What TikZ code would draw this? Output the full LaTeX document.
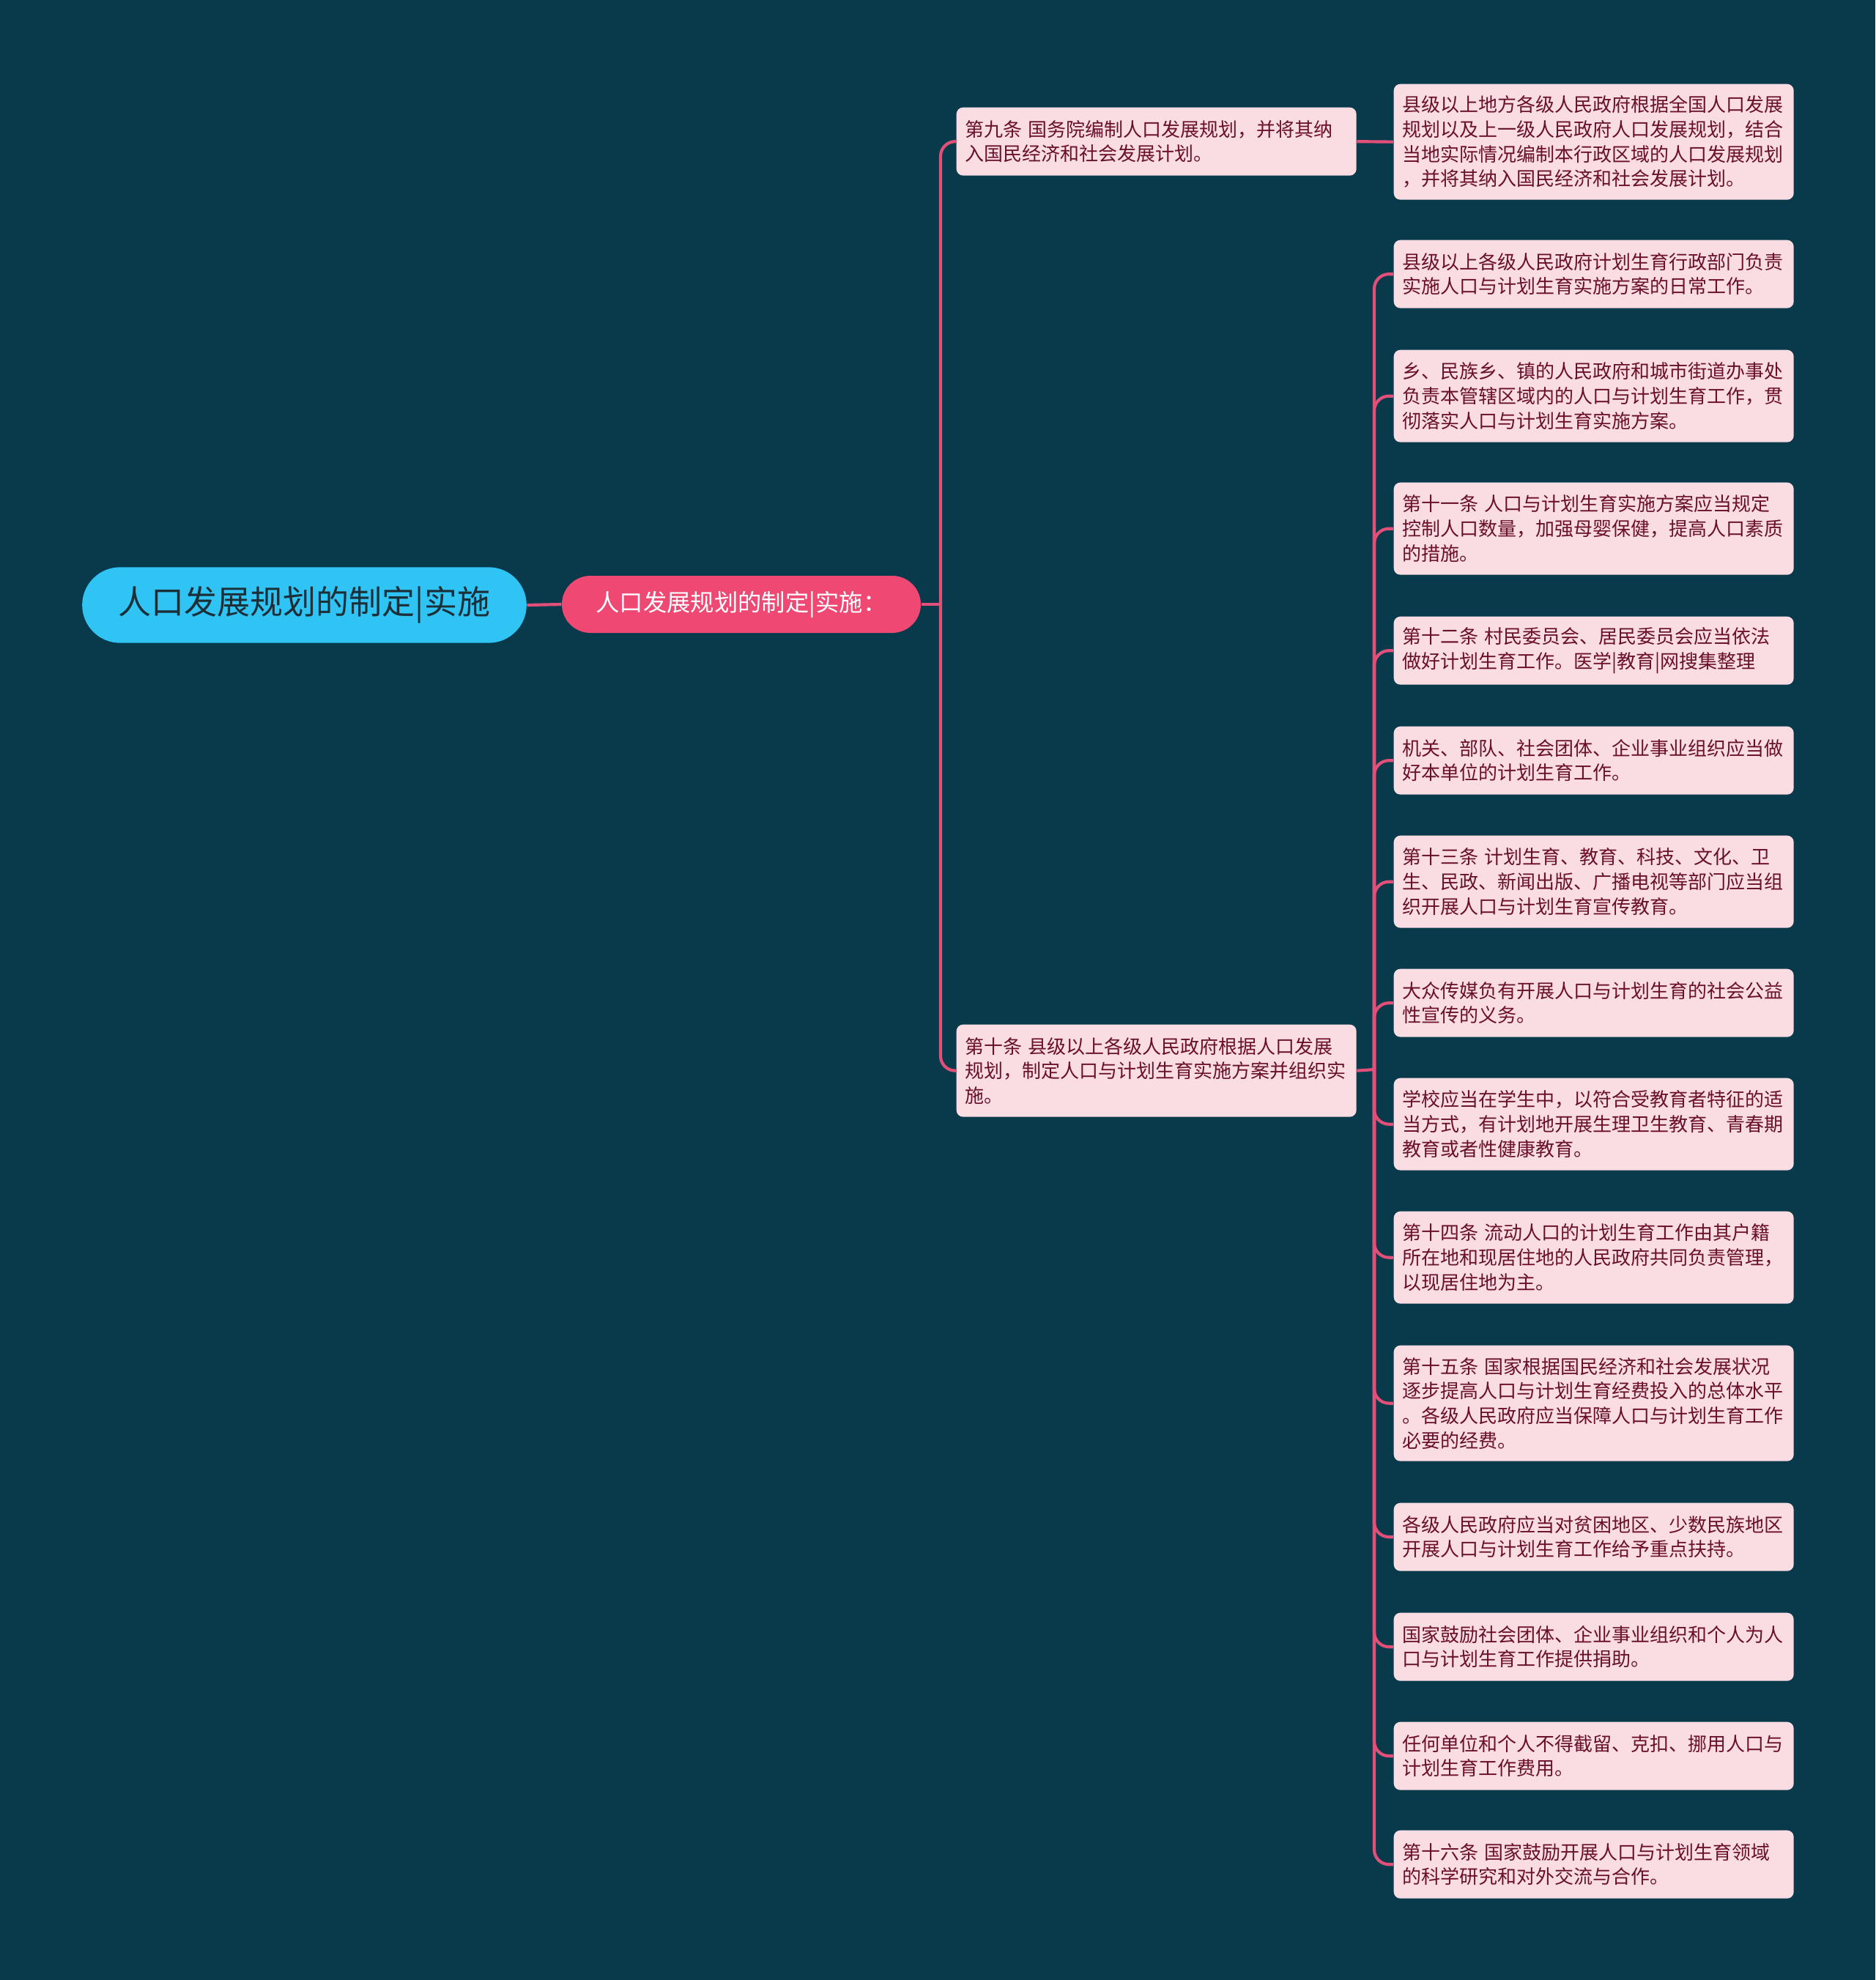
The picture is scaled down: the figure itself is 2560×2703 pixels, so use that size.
\documentclass[tikz,border=0pt]{standalone}
\usepackage{fontspec}
\newfontfamily\cjk{Noto Sans CJK SC}
\definecolor{bg}{HTML}{083A4C}
\definecolor{rootc}{HTML}{2FC4F4}
\definecolor{subc}{HTML}{EE4873}
\definecolor{leafc}{HTML}{FADCE3}
\definecolor{leaft}{HTML}{6A1028}
\definecolor{linec}{HTML}{E2507A}
\definecolor{roott}{HTML}{1C2E38}
\tikzset{
  box/.style={anchor=north west, fill=leafc, text=leaft, rounded corners=2.7pt,
    minimum width=163.8pt, text width=157pt, inner xsep=3.4pt, inner ysep=0pt,
    align=left, font=\cjk\fontsize{7.8pt}{10.1pt}\selectfont},
  htwo/.style={box, minimum height=27.9pt},
  hthree/.style={box, minimum height=37.8pt},
  hfour/.style={box, minimum height=47.4pt},
  rootbox/.style={fill=rootc, text=roott, minimum width=182pt, minimum height=31pt,
    rounded corners=15.5pt, inner sep=0pt, font=\cjk\fontsize{13.5pt}{15pt}\selectfont},
  subbox/.style={fill=subc, text=white, minimum width=147pt, minimum height=23.4pt,
    rounded corners=11.7pt, inner sep=0pt, font=\cjk\fontsize{9.7pt}{11pt}\selectfont},
  conn/.style={draw=linec, line width=1.25pt},
  curvedconn/.style={conn, rounded corners=6pt},
}
\begin{document}
\begin{tikzpicture}[x=0.3pt,y=-0.3pt]
\fill[bg] (0,0) rectangle (2560,2703);
\useasboundingbox (0,0) rectangle (2560,2703);

\node[rootbox] (root) at (415.5,826) {人口发展规划的制定|实施};
\node[subbox] (sub) at (1012,825) {人口发展规划的制定|实施：};

\node[htwo] (A) at (1305,146) {第九条 国务院编制人口发展规划，并将其纳\\入国民经济和社会发展计划。};
\node[hthree] (B) at (1305,1398) {第十条 县级以上各级人民政府根据人口发展\\规划，制定人口与计划生育实施方案并组织实\\施。};

\node[hfour] (A1) at (1902,114) {县级以上地方各级人民政府根据全国人口发展\\规划以及上一级人民政府人口发展规划，结合\\当地实际情况编制本行政区域的人口发展规划\\，并将其纳入国民经济和社会发展计划。};

\node[htwo] (L1) at (1902,327) {县级以上各级人民政府计划生育行政部门负责\\实施人口与计划生育实施方案的日常工作。};
\node[hthree] (L2) at (1902,477) {乡、民族乡、镇的人民政府和城市街道办事处\\负责本管辖区域内的人口与计划生育工作，贯\\彻落实人口与计划生育实施方案。};
\node[hthree] (L3) at (1902,658) {第十一条 人口与计划生育实施方案应当规定\\控制人口数量，加强母婴保健，提高人口素质\\的措施。};
\node[htwo] (L4) at (1902,841) {第十二条 村民委员会、居民委员会应当依法\\做好计划生育工作。医学|教育|网搜集整理};
\node[htwo] (L5) at (1902,991) {机关、部队、社会团体、企业事业组织应当做\\好本单位的计划生育工作。};
\node[hthree] (L6) at (1902,1140) {第十三条 计划生育、教育、科技、文化、卫\\生、民政、新闻出版、广播电视等部门应当组\\织开展人口与计划生育宣传教育。};
\node[htwo] (L7) at (1902,1322) {大众传媒负有开展人口与计划生育的社会公益\\性宣传的义务。};
\node[hthree] (L8) at (1902,1471) {学校应当在学生中，以符合受教育者特征的适\\当方式，有计划地开展生理卫生教育、青春期\\教育或者性健康教育。};
\node[hthree] (L9) at (1902,1653) {第十四条 流动人口的计划生育工作由其户籍\\所在地和现居住地的人民政府共同负责管理，\\以现居住地为主。};
\node[hfour] (L10) at (1902,1836) {第十五条 国家根据国民经济和社会发展状况\\逐步提高人口与计划生育经费投入的总体水平\\。各级人民政府应当保障人口与计划生育工作\\必要的经费。};
\node[htwo] (L11) at (1902,2051) {各级人民政府应当对贫困地区、少数民族地区\\开展人口与计划生育工作给予重点扶持。};
\node[htwo] (L12) at (1902,2201) {国家鼓励社会团体、企业事业组织和个人为人\\口与计划生育工作提供捐助。};
\node[htwo] (L13) at (1902,2350) {任何单位和个人不得截留、克扣、挪用人口与\\计划生育工作费用。};
\node[htwo] (L14) at (1902,2498) {第十六条 国家鼓励开展人口与计划生育领域\\的科学研究和对外交流与合作。};

\draw[conn] (root.east) -- (sub.west);
\coordinate (jA) at (1284,825);
\draw[conn] (sub.east) -- (jA);
\draw[curvedconn] (jA) |- (A.west);
\draw[curvedconn] (jA) |- (B.west);
\draw[conn] (A.east) -- (A1.west);
\coordinate (jB) at (1876,1460);
\draw[conn] (B.east) -- (jB);
\foreach \i in {1,...,14} {\draw[curvedconn] (jB) |- (L\i.west);}
\end{tikzpicture}
\end{document}
